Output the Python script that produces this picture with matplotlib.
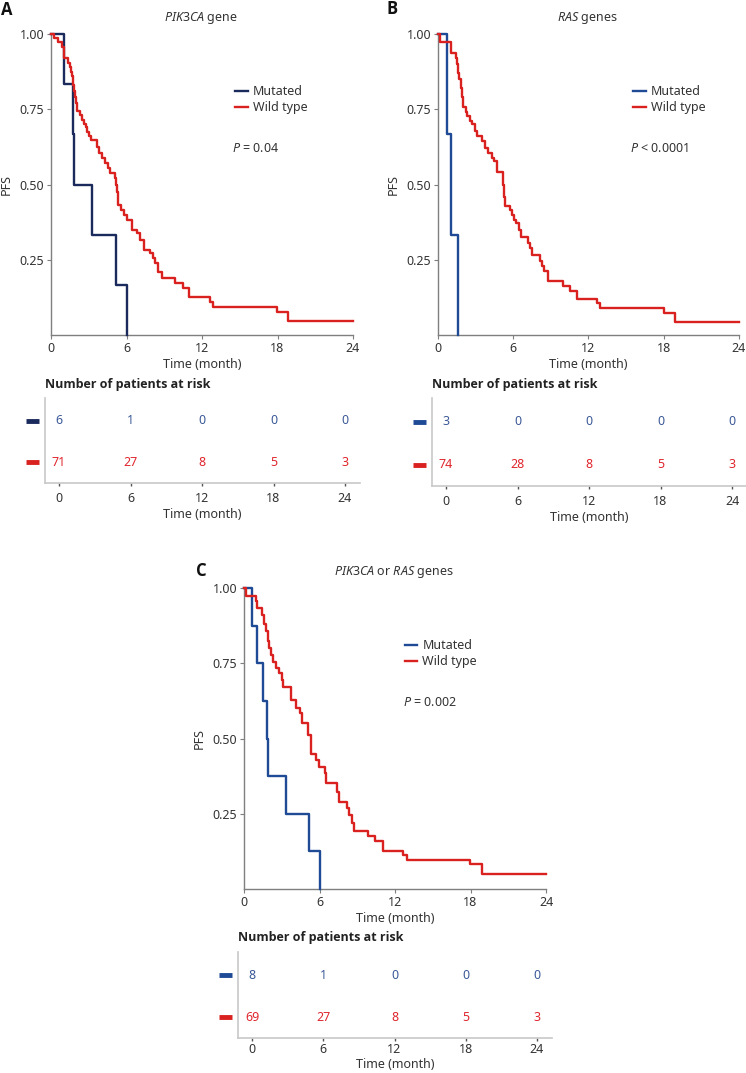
import matplotlib
matplotlib.use('Agg')
import matplotlib.pyplot as plt

plt.rcParams['font.family'] = ['Noto Sans', 'DejaVu Sans']
plt.rcParams['mathtext.fontset'] = 'custom'
plt.rcParams['mathtext.it'] = 'Noto Sans:italic'
plt.rcParams['mathtext.rm'] = 'Noto Sans'

# ---- data ----
RISK_TIMES = [0, 6, 12, 18, 24]

# A: PIK3CA gene
a_mut_t = [0, 1.03, 1.77, 1.85, 3.23, 5.14, 6.04]
a_mut_s = [1.0, 0.833, 0.667, 0.5, 0.333, 0.167, 0.0]
a_wt_t = [0, 0.2, 0.55, 0.85, 1.0, 1.38, 1.5, 1.58, 1.65, 1.72, 1.78, 1.85, 1.92, 2.0, 2.1,
          2.3, 2.45, 2.6, 2.75, 2.9, 3.05, 3.2, 3.63, 3.78, 4.05, 4.3, 4.55, 4.7, 5.1, 5.2,
          5.25, 5.3, 5.35, 5.6, 5.8, 6.05, 6.45, 6.8, 7.05, 7.4, 7.85, 8.1, 8.3, 8.5, 8.8,
          9.86, 10.47, 11.0, 12.64, 12.9, 17.94, 18.86, 24]
a_wt_s = [1.0, 0.986, 0.972, 0.958, 0.92, 0.905, 0.89, 0.875, 0.86, 0.845, 0.83, 0.81, 0.79, 0.77, 0.745,
          0.73, 0.715, 0.70, 0.69, 0.675, 0.66, 0.648, 0.626, 0.604, 0.588, 0.57, 0.554, 0.537, 0.522, 0.50,
          0.475, 0.45, 0.433, 0.416, 0.40, 0.382, 0.349, 0.338, 0.316, 0.283, 0.272, 0.255, 0.238, 0.21, 0.188,
          0.172, 0.157, 0.127, 0.111, 0.094, 0.077, 0.047, 0.047]
a_risk_mut = [6, 1, 0, 0, 0]
a_risk_wt = [71, 27, 8, 5, 3]

# B: RAS genes
b_mut_t = [0, 0.69, 1.0, 1.57]
b_mut_s = [1.0, 0.667, 0.333, 0.0]
b_wt_t = [0, 0.16, 1.0, 1.44, 1.52, 1.6, 1.7, 1.8, 1.9, 2.0, 2.2, 2.35, 2.55, 2.7, 2.95, 3.1,
          3.5, 3.75, 4.0, 4.28, 4.45, 4.68, 5.2, 5.25, 5.34, 5.74, 5.9, 6.05, 6.25, 6.45, 6.6,
          7.2, 7.35, 7.47, 8.14, 8.3, 8.45, 8.8, 9.94, 10.53, 11.06, 12.65, 12.92, 18.02, 18.9, 24]
b_wt_s = [1.0, 0.974, 0.936, 0.92, 0.9, 0.87, 0.85, 0.82, 0.79, 0.758, 0.742, 0.727, 0.71, 0.70, 0.677, 0.66,
          0.644, 0.622, 0.605, 0.588, 0.577, 0.54, 0.50, 0.46, 0.427, 0.416, 0.40, 0.382, 0.371, 0.349, 0.327,
          0.305, 0.289, 0.267, 0.245, 0.228, 0.212, 0.179, 0.164, 0.147, 0.12, 0.105, 0.089, 0.074, 0.044, 0.044]
b_risk_mut = [3, 0, 0, 0, 0]
b_risk_wt = [74, 28, 8, 5, 3]

# C: PIK3CA or RAS genes
c_mut_t = [0, 0.66, 1.0, 1.53, 1.85, 1.93, 3.31, 5.17, 6.07]
c_mut_s = [1.0, 0.875, 0.75, 0.625, 0.5, 0.375, 0.25, 0.125, 0.0]
c_wt_t = [0, 0.13, 0.95, 1.06, 1.4, 1.59, 1.72, 1.88, 1.99, 2.12, 2.33, 2.54, 2.81, 2.99, 3.13,
          3.71, 4.11, 4.45, 4.58, 5.11, 5.3, 5.72, 5.99, 6.44, 6.52, 7.36, 7.58, 8.16, 8.37, 8.56,
          8.74, 9.83, 10.41, 11.02, 12.66, 12.93, 17.96, 18.89, 24]
c_wt_s = [1.0, 0.972, 0.956, 0.932, 0.91, 0.88, 0.857, 0.825, 0.80, 0.776, 0.754, 0.733, 0.716, 0.694, 0.672,
          0.629, 0.60, 0.584, 0.55, 0.51, 0.45, 0.428, 0.406, 0.384, 0.351, 0.323, 0.29, 0.268, 0.246, 0.219,
          0.193, 0.177, 0.159, 0.127, 0.113, 0.096, 0.082, 0.05, 0.05]
c_risk_mut = [8, 1, 0, 0, 0]
c_risk_wt = [69, 27, 8, 5, 3]

W, H = 746, 1073
RED = '#d9221f'
GREY = '#7f7f7f'
TXT = '#333333'
FS = 9
BOLD_FONT = ['Open Sans', 'DejaVu Sans']


def rect(l, t, r, b):
    return [l / W, 1 - b / H, (r - l) / W, (b - t) / H]


def km_axes(fig, box, title, mt, ms, wt, ws, ptext, mut_col, leg_x, ptx):
    ax = fig.add_axes(rect(*box))
    ax.step(mt, ms, where='post', color=mut_col, lw=1.7, label='Mutated', clip_on=False, zorder=3)
    ax.step(wt, ws, where='post', color=RED, lw=1.7, label='Wild type', clip_on=False, zorder=3)
    ax.set_xlim(0, 24)
    ax.set_ylim(0, 1)
    ax.set_xticks(RISK_TIMES)
    ax.set_yticks([0.25, 0.5, 0.75, 1.0])
    ax.set_yticklabels(['0.25', '0.50', '0.75', '1.00'])
    for s in ['top', 'right']:
        ax.spines[s].set_visible(False)
    for s in ['left', 'bottom']:
        ax.spines[s].set_color(GREY)
        ax.spines[s].set_linewidth(1.0)
    ax.tick_params(length=3, width=0.8, color=GREY, labelcolor=TXT, labelsize=FS, pad=2)
    ax.set_xlabel('Time (month)', fontsize=FS, color=TXT, labelpad=2)
    ax.set_ylabel('PFS', fontsize=FS, color=TXT, labelpad=5)
    ax.text(0.497, 1.052, title, transform=ax.transAxes, ha='center', va='center',
            fontsize=FS, color=TXT)
    ax.legend(loc='upper left', bbox_to_anchor=(leg_x, 0.83), frameon=False, fontsize=FS,
              handlelength=1.0, handletextpad=0.4, labelspacing=0.25, borderpad=0,
              borderaxespad=0, labelcolor=TXT)
    ax.text(ptx, 0.62, ptext, transform=ax.transAxes, ha='left', va='center',
            fontsize=FS, color=TXT)
    return ax


def risk_axes(fig, box, x0, x24, rm, rw, mut_col, title_off, tpad=4, lpad=2):
    l, t, r, b = box
    k = (x24 - x0) / 24.0
    ax = fig.add_axes(rect(l, t, r, b))
    ax.set_xlim(-(x0 - l) / k, 24 + (r - x24) / k)
    ax.set_ylim(-0.5, 1.55)
    for s in ['top', 'right']:
        ax.spines[s].set_visible(False)
    for s in ['left', 'bottom']:
        ax.spines[s].set_color('#c8c8c8')
        ax.spines[s].set_linewidth(1.2)
    ax.set_xticks(RISK_TIMES)
    ax.set_yticks([])
    ax.tick_params(axis='x', length=2.5, width=1, color='#555555', labelcolor=TXT,
                   labelsize=FS, pad=tpad)
    ax.set_xlabel('Time (month)', fontsize=FS, color=TXT, labelpad=lpad)
    for i, tm in enumerate(RISK_TIMES):
        ax.text(tm, 1, str(rm[i]), ha='center', va='center', fontsize=FS, color='#3b5998')
        ax.text(tm, 0, str(rw[i]), ha='center', va='center', fontsize=FS, color='#e0262e')
    d0 = -(x0 - l + 19) / k
    d1 = -(x0 - l + 6) / k
    ax.plot([d0, d1], [1, 1], color=mut_col, lw=3.5, clip_on=False, solid_capstyle='butt')
    ax.plot([d0, d1], [0, 0], color=RED, lw=3.5, clip_on=False, solid_capstyle='butt')
    ax.text(0, 1 + title_off, 'Number of patients at risk', transform=ax.transAxes,
            ha='left', va='center', fontsize=FS, fontweight='bold', family=BOLD_FONT,
            color='#222222')
    return ax


fig = plt.figure(figsize=(W / 100, H / 100), dpi=100)

km_axes(fig, (51, 34, 353, 335), r'$\mathit{PIK3CA}$ gene', a_mut_t, a_mut_s, a_wt_t, a_wt_s,
        r'$\mathit{P}$ = 0.04', '#1b2a5c', 0.61, 0.60)
risk_axes(fig, (45, 398, 360, 483), 59, 345, a_risk_mut, a_risk_wt, '#1b2a5c', 0.153)

km_axes(fig, (438, 34, 739, 335), r'$\mathit{RAS}$ genes', b_mut_t, b_mut_s, b_wt_t, b_wt_s,
        r'$\mathit{P}$ < 0.0001', '#1f4a96', 0.648, 0.638)
risk_axes(fig, (432, 398, 746, 486), 446, 732, b_risk_mut, b_risk_wt, '#1f4a96', 0.15)

km_axes(fig, (244, 588, 546, 889), r'$\mathit{PIK3CA}$ or $\mathit{RAS}$ genes', c_mut_t, c_mut_s,
        c_wt_t, c_wt_s, r'$\mathit{P}$ = 0.002', '#1f4a96', 0.533, 0.526)
risk_axes(fig, (238, 952, 552, 1038), 252, 537, c_risk_mut, c_risk_wt, '#1f4a96', 0.174,
          tpad=1, lpad=1.5)

for lab, x, y in [('A', 1, 10), ('B', 387, 9), ('C', 196, 571)]:
    fig.text(x / W, 1 - y / H, lab, ha='left', va='center', fontsize=12,
             fontweight='bold', family=BOLD_FONT, color='#111111')

fig.savefig('out.png', dpi=100)
